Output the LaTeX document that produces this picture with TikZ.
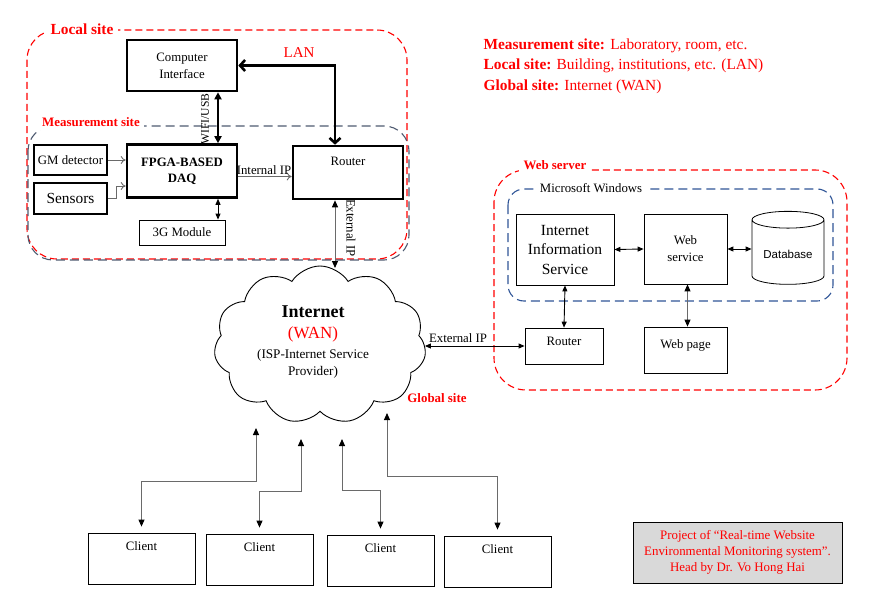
\documentclass[tikz,border=0pt]{standalone}
\usepackage{fontspec}
\setmainfont{Liberation Serif}
\newfontfamily\dbfont{Liberation Sans}
\usetikzlibrary{arrows.meta, calc, shapes.geometric, shapes.symbols}
\definecolor{sitered}{HTML}{FF0000}
\definecolor{meagray}{HTML}{4E5A70}
\definecolor{winblue}{HTML}{2F5597}
\definecolor{lnkgray}{HTML}{6A6A6A}
\definecolor{notegray}{HTML}{D9D9D9}

\tikzset{
  thickbox/.style={draw, line width=2.6pt, align=center, inner sep=2pt},
  thinbox/.style={draw, line width=0.8pt, align=center, inner sep=2pt},
  toptext/.style 2 args={label={[anchor=north, yshift=-#2pt, align=center, font=\fontsize{12.8}{15}\selectfont]north:#1}},
  sitedash/.style={sitered, line width=1.1pt, dash pattern=on 7pt off 4pt},
  meadash/.style={meagray, line width=1.1pt, dash pattern=on 9pt off 5pt},
  windash/.style={winblue, line width=1.1pt, dash pattern=on 9pt off 5pt},
  sitelabel/.style={text=sitered, font=\bfseries\fontsize{12.9}{15}\selectfont, fill=white, inner xsep=5pt},
  dbl/.style={<->, line width=0.9pt},
  grayline/.style={{Triangle[length=7pt, width=6pt, black]}-{Triangle[length=7pt, width=6pt, black]}, lnkgray, line width=1pt},
  fatdbl/.style={{Triangle[length=7pt, width=7pt]}-{Triangle[length=7pt, width=7pt]}, line width=2.4pt},
  lanlink/.style={{Straight Barb[length=5pt, width=11pt]}-{Straight Barb[length=5pt, width=11pt]}, line width=2.6pt},
  grayarrow/.style={-{To[length=5pt, width=8pt]}, lnkgray, line width=0.9pt},
  cliline/.style={grayline, shorten >=6pt},
  small/.style={font=\fontsize{12.8}{17}\selectfont}
}

\begin{document}
\begin{tikzpicture}[x=1pt, y=-1pt, >={Triangle[length=6pt, width=5pt]}]

\useasboundingbox (0,0) rectangle (877,615);

% =========== LOCAL SITE ===========
\draw[sitedash, rounded corners=30pt] (27,30) rectangle (407,259);
\draw[meadash, rounded corners=25pt] (28,126) rectangle (409,260);
\node[sitelabel, font=\bfseries\fontsize{15.4}{17}\selectfont] (localtitle) at (82,29) {Local site};
\node[sitelabel, inner xsep=4pt] (meatitle) at (91,122) {Measurement site};

\node[thickbox, minimum width=110pt, minimum height=51pt, small] (comp) at (182,65.5) {Computer\\Interface};
\node[thickbox, minimum width=110pt, minimum height=53pt, font=\bfseries\fontsize{12.8}{16}\selectfont] (daq) at (182,171) {FPGA-BASED\\DAQ};
\node[thickbox, minimum width=73pt, minimum height=30pt, inner sep=0pt, small] (gm) at (70.5,160) {GM detector};
\node[thickbox, minimum width=73pt, minimum height=31pt, font=\fontsize{15.4}{17}\selectfont] (sens) at (70.5,198.5) {Sensors};
\node[thinbox, minimum width=86pt, minimum height=25pt, small] (gmod) at (182,232.5) {3G Module};
\node[thickbox, minimum width=110pt, minimum height=53pt, toptext={Router}{9}] (rtrl) at (348,172.5) {};

% Links inside the local site
\draw[lanlink] (comp.east) -| ([xshift=-13pt]rtrl.north);
\node[text=sitered, font=\fontsize{15}{17}\selectfont] (lan) at (299,53) {LAN};
\draw[fatdbl] ([xshift=36pt]comp.south) -- ([xshift=36pt]daq.north);
\node[font=\fontsize{11.6}{13}\selectfont, rotate=90] (wifi) at (205,119) {WIFI/USB};
\draw[grayarrow] (gm.east) -- (gm.east -| daq.west);
\draw[grayarrow] (sens.east) -- ++(8,0) |- ([yshift=-15pt]daq.west);
\draw[grayarrow] ([yshift=-5.5pt]daq.east) -- ([yshift=-5.5pt]daq.east -| rtrl.west);
\node[small] (intip) at (264,170) {Internal IP};
\draw[dbl] ([xshift=36pt]daq.south) -- ([xshift=36pt]gmod.north);

% =========== GLOBAL SITE ===========
\node[cloud, draw, line width=0.9pt, cloud puffs=11, cloud puff arc=115, aspect=1.35,
      minimum width=212pt, minimum height=158pt, inner sep=0pt] (wan) at (320,345) {};
\node[align=center, font=\fontsize{13.2}{17}\selectfont] (wantext) at (313,342)
  {{\bfseries\fontsize{18}{21}\selectfont Internet}\\[4pt]
   {\color{sitered}\fontsize{17}{20}\selectfont (WAN)}\\[3pt]
   (ISP-Internet Service\\ Provider)};
\node[text=sitered, font=\bfseries\fontsize{12.9}{15}\selectfont] (globtitle) at (437,398) {Global site};

\coordinate (wanin) at (335,268);
\draw[grayline] ([xshift=-13pt]rtrl.south) -- (wanin);
\node[small, rotate=-90] (extipv) at (351,228) {External IP};

% =========== WEB SERVER ===========
\draw[sitedash, rounded corners=32pt] (494,170) rectangle (847,390);
\draw[windash, rounded corners=16pt] (508,189) rectangle (833,301);
\node[sitelabel] (webtitle) at (555,165) {Web server};
\node[fill=white, small, inner xsep=5pt] (wintitle) at (591,188) {Microsoft Windows};

\node[thinbox, minimum width=98pt, minimum height=71pt, font=\fontsize{15.5}{19.5}\selectfont] (iis) at (565,249.5) {Internet\\Information\\Service};
\node[thinbox, minimum width=83pt, minimum height=70pt, small] (wsvc) at (685.5,249) {Web\\service};
\node[draw, cylinder, shape border rotate=90, aspect=0.3, line width=0.8pt,
      minimum width=72pt, minimum height=73pt, font=\dbfont\fontsize{11.5}{13}\selectfont] (db) at (788,254) {Database};
\node[thinbox, minimum width=78pt, minimum height=36pt, toptext={Router}{6}] (rtrw) at (564,346) {};
\node[thinbox, minimum width=83pt, minimum height=46pt, toptext={Web page}{9}] (wpage) at (685.5,350) {};

\draw[dbl] (iis.east) -- (wsvc.west);
\draw[dbl] (wsvc.east) -- (wsvc.east -| db.west);
\draw[dbl] (iis.south) -- (rtrw.north);
\draw[grayline] ([xshift=2pt]wsvc.south) -- ([xshift=2pt]wpage.north);
\draw[dbl] (wan.east |- rtrw.west) -- (rtrw.west);
\node[small] (extiph) at (458,338) {External IP};

% =========== CLIENTS ===========
\node[thinbox, minimum width=107pt, minimum height=51pt, toptext={Client}{5}] (cli1) at (141.5,558.5) {};
\node[thinbox, minimum width=107pt, minimum height=51pt, toptext={Client}{5}] (cli2) at (259.5,559.5) {};
\node[thinbox, minimum width=107pt, minimum height=51pt, toptext={Client}{5}] (cli3) at (380.5,560.5) {};
\node[thinbox, minimum width=107pt, minimum height=51pt, toptext={Client}{5}] (cli4) at (497.5,561.5) {};

\coordinate (wc1) at (256,428);
\coordinate (wc2) at (301,439);
\coordinate (wc3) at (342,439);
\coordinate (wc4) at (387,413);
\draw[cliline] (wc1) -- ++(0,53) -| (cli1.north);
\draw[cliline] (wc2) -- ++(0,52) -| (cli2.north);
\draw[cliline] (wc3) -- ++(0,51) -| (cli3.north);
\draw[cliline] (wc4) -- ++(0,63) -| (cli4.north);

% =========== LEGEND AND NOTE ===========
\node[anchor=west, align=left, text=sitered, font=\fontsize{15.4}{20.5}\selectfont] (legend) at (480,66)
  {\textbf{Measurement site:} Laboratory, room, etc.\\
   \textbf{Local site:} Building, institutions, etc. (LAN)\\
   \textbf{Global site:} Internet (WAN)};

\node[draw, fill=notegray, line width=1pt, minimum width=209pt, minimum height=61pt,
      align=center, text=sitered, font=\fontsize{12.9}{16}\selectfont] (note) at (737.5,552.5)
  {Project of ``Real-time Website\\Environmental Monitoring system''.\\Head by Dr. Vo Hong Hai};

\end{tikzpicture}
\end{document}
